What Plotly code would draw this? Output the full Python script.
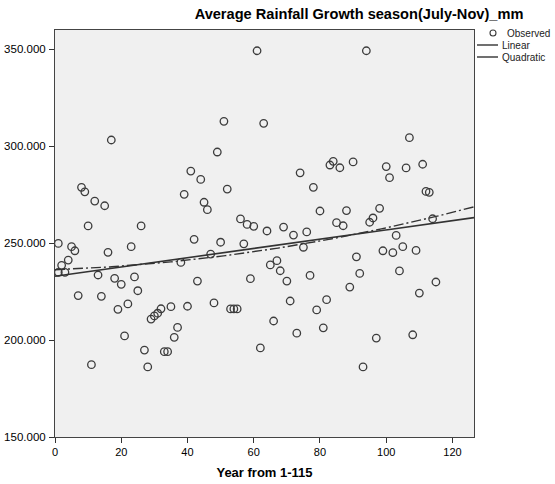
import numpy as np
import plotly.graph_objects as go

# Year index and observed rainfall (mm)
years = [1, 1, 2, 3, 4, 5, 6, 7, 8, 9, 10, 11, 12, 13, 14, 15, 16, 17, 18, 19, 20,
         21, 22, 23, 24, 25, 26, 27, 28, 29, 30, 31, 32, 33, 34, 35, 36, 37, 38, 39, 40,
         41, 42, 43, 44, 45, 46, 47, 48, 49, 50, 51, 52, 53, 54, 55, 56, 57, 58, 59, 60,
         61, 62, 63, 64, 65, 66, 67, 68, 69, 70, 71, 72, 73, 74, 75, 76, 77, 78, 79, 80,
         81, 82, 83, 84, 85, 86, 87, 88, 89, 90, 91, 92, 93, 94, 95, 96, 97, 98, 99, 100,
         101, 102, 103, 104, 105, 106, 107, 108, 109, 110, 111, 112, 113, 114, 115]
rainfall = [249.8, 234.9, 238.5, 234.9, 241.2, 248.1, 246.0, 222.9, 278.7, 276.4, 258.8,
            187.3, 271.6, 233.5, 222.5, 269.2, 245.2, 303.1, 231.8, 215.8, 228.7,
            202.1, 218.6, 248.1, 232.5, 225.4, 258.8, 194.8, 186.1, 210.8, 212.4,
            213.8, 216.1, 194.0, 194.0, 217.2, 201.4, 206.5, 240.0, 275.1, 217.4,
            287.1, 251.9, 230.4, 282.8, 271.0, 267.2, 244.3, 219.1, 296.9, 250.4,
            312.7, 277.8, 216.0, 216.0, 216.0, 262.4, 249.6, 259.6, 231.6, 258.6,
            349.1, 195.9, 311.7, 256.2, 238.7, 209.8, 240.9, 235.7, 258.2, 230.4,
            220.1, 254.1, 203.5, 286.2, 247.8, 255.7, 233.3, 278.7, 215.5, 266.5,
            206.3, 220.8, 290.2, 292.1, 260.5, 288.8, 258.9, 266.7, 227.3, 291.8,
            242.9, 234.3, 186.1, 349.1, 260.7, 262.9, 201.0, 267.9, 246.0, 289.4,
            283.7, 245.0, 253.9, 235.6, 248.1, 288.7, 304.3, 202.7, 246.2, 224.2,
            290.6, 276.6, 276.1, 262.5, 229.9]

x_ticks = [0, 20, 40, 60, 80, 100, 120]
y_ticks = [150, 200, 250, 300, 350]
x_range = [0, 126.5]
y_range = [150, 359.8]

title_text = "Average Rainfall Growth season(July-Nov)_mm"
x_title = "Year from 1-115"
legend_labels = ["Observed", "Linear", "Quadratic"]

x = np.array(years, dtype=float)
y = np.array(rainfall, dtype=float)
grid = np.linspace(x_range[0], x_range[1], 200)
lin = np.polyval(np.polyfit(x, y, 1), grid)
quad = np.polyval(np.polyfit(x, y, 2), grid)

FONT = "Liberation Sans, Arial, sans-serif"

fig = go.Figure()
fig.add_trace(go.Scatter(
    x=years, y=rainfall, mode="markers", name=legend_labels[0],
    marker=dict(symbol="circle-open", size=7.5, color="#3c3c3c", line=dict(width=1.3)),
    showlegend=False, hoverinfo="x+y"))
fig.add_trace(go.Scatter(
    x=grid, y=lin, mode="lines", name=legend_labels[1],
    line=dict(color="#333333", width=1.6), showlegend=False))
fig.add_trace(go.Scatter(
    x=grid, y=quad, mode="lines", name=legend_labels[2],
    line=dict(color="#333333", width=1.4, dash="10px,3px,2px,3px"), showlegend=False))

fig.update_layout(
    width=555, height=484,
    margin=dict(l=55, r=81, t=30, b=47),
    paper_bgcolor="white", plot_bgcolor="#f0f0f0",
    font=dict(family=FONT, size=11, color="black"),
    title=dict(text="<b>" + title_text + "</b>", x=359 / 555, xanchor="center",
               y=1 - 14 / 484, yanchor="middle", font=dict(size=14.6, family=FONT)),
)
fig.update_xaxes(
    range=x_range, tickvals=x_ticks, ticks="outside", ticklen=5, tickcolor="#333",
    showline=True, linecolor="#444", linewidth=1, mirror=True, showgrid=False,
    zeroline=False, tickfont=dict(size=11), automargin=False,
    title=dict(text="<b>" + x_title + "</b>", font=dict(size=13), standoff=10))
fig.update_yaxes(
    range=y_range, tickvals=y_ticks, tickformat=".3f", ticks="outside", ticklen=5,
    tickcolor="#333", showline=True, linecolor="#444", linewidth=1, mirror=True,
    showgrid=False, zeroline=False, tickfont=dict(size=11.5), automargin=False,
    ticklabelstandoff=1)

# Legend drawn at the right, in SPSS style
leg_y = [33, 45, 57]
fig.add_shape(type="circle", xref="paper", yref="paper",
              x0=(493 - 3 - 55) / 419, x1=(493 + 3 - 55) / 419,
              y0=(437 - leg_y[0] - 3) / 407, y1=(437 - leg_y[0] + 3) / 407,
              line=dict(color="#3c3c3c", width=1.1))
fig.add_shape(type="line", xref="paper", yref="paper",
              x0=(477 - 55) / 419, x1=(498 - 55) / 419,
              y0=(437 - leg_y[1]) / 407, y1=(437 - leg_y[1]) / 407,
              line=dict(color="#222", width=1.3))
fig.add_shape(type="line", xref="paper", yref="paper",
              x0=(477 - 55) / 419, x1=(498 - 55) / 419,
              y0=(437 - leg_y[2]) / 407, y1=(437 - leg_y[2]) / 407,
              line=dict(color="#222", width=1.3))
for lab, ly, lx in zip(legend_labels, leg_y, [505, 500, 500]):
    fig.add_annotation(text=lab, xref="paper", yref="paper",
                       x=(lx - 55) / 419, y=(437 - ly) / 407,
                       xanchor="left", yanchor="middle", showarrow=False,
                       font=dict(size=10, family=FONT, color="#222"))

fig.write_html("out.html")
